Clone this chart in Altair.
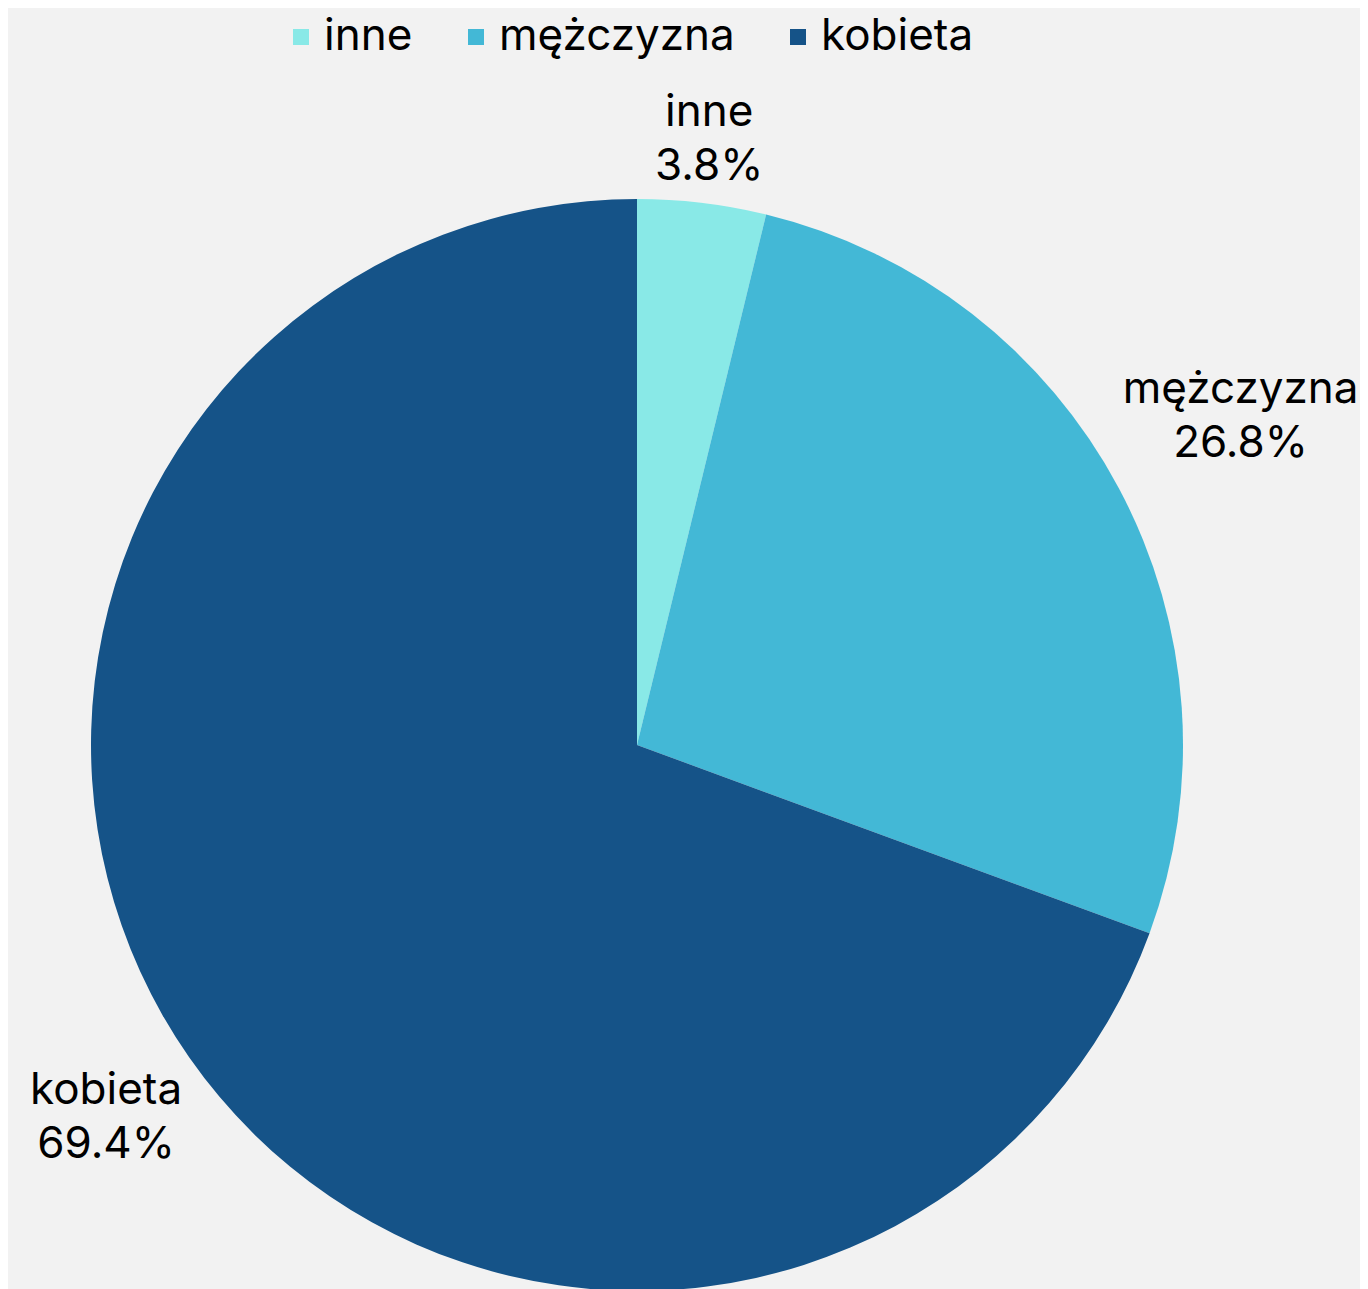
import math
import altair as alt
import pandas as pd

categories = ["inne", "mężczyzna", "kobieta"]
values = [3.8, 26.8, 69.4]
colors = ["#89e9e7", "#43b8d6", "#155388"]

df = pd.DataFrame({
    "kategoria": categories,
    "procent": values,
    "idx": list(range(len(categories))),
})
df["etykieta"] = [f"{c}\n{v}%" for c, v in zip(categories, values)]

FONT = "Inter"
FS = 44
CX, CY = 629, 737
R = 546
LR = 556

color = alt.Color(
    "kategoria:N",
    scale=alt.Scale(domain=categories, range=colors),
    sort=categories,
    legend=alt.Legend(
        title=None,
        orient="none",
        direction="horizontal",
        legendX=271,
        legendY=7,
        symbolType="square",
        symbolSize=256,
        symbolStrokeWidth=0,
        symbolOpacity=1,
        labelFont=FONT,
        labelFontSize=FS,
        labelColor="#000000",
        labelOffset=1,
        labelLimit=0,
        columnPadding=41,
        padding=0,
    ),
)

theta_scale = alt.Scale(domain=[0, 100], range=[0, 2 * math.pi])

base = alt.Chart(df)

arcs = base.mark_arc(radius=R, stroke=None).encode(
    theta=alt.Theta("procent:Q", stack=True, scale=theta_scale),
    order=alt.Order("idx:Q", sort="ascending"),
    color=color,
    x=alt.value(CX),
    y=alt.value(CY),
)

def label_layer(cat, baseline, dx, dy):
    return (
        base.transform_window(
            cum="sum(procent)", sort=[alt.SortField("idx", order="ascending")]
        )
        .transform_calculate(mid="datum.cum - datum.procent / 2")
        .transform_filter(alt.datum.kategoria == cat)
        .mark_text(
            font=FONT,
            fontSize=FS,
            lineHeight=54,
            lineBreak="\n",
            align="center",
            baseline=baseline,
            color="#000000",
            dx=dx,
            dy=dy,
        )
        .encode(
            theta=alt.Theta("mid:Q", stack=None, scale=theta_scale),
            radius=alt.value(LR),
            text="etykieta:N",
            x=alt.value(CX),
            y=alt.value(CY),
        )
    )

labels = [
    label_layer("inne", "bottom", 6, -58),
    label_layer("mężczyzna", "middle", 113, -93),
    label_layer("kobieta", "middle", -75, 28),
]

chart = (
    alt.layer(arcs, *labels)
    .properties(width=1352, height=1281, background="#f2f2f2", padding=0, autosize="none")
    .configure_view(stroke=None)
)

chart.save("out.html", embed_options={"renderer": "svg", "actions": False})
